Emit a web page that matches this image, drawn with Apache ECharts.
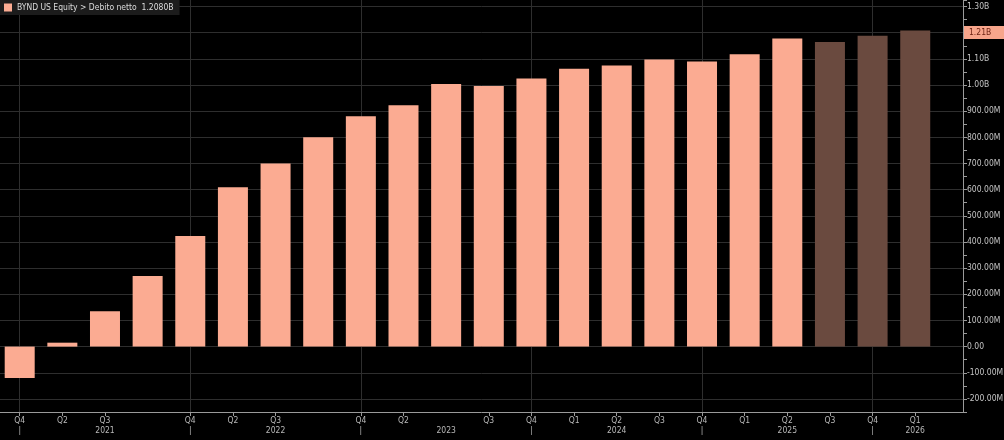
<!DOCTYPE html>
<html><head><meta charset="utf-8">
<script src="https://cdn.jsdelivr.net/npm/echarts@6/dist/echarts.min.js"></script>
<style>html,body{margin:0;padding:0;background:#000}#c{width:1004px;height:440px}</style>
</head><body><div id="c"></div>
<script>
// ---- data (values in millions USD) ----
const seriesName = 'BYND US Equity > Debito netto  1.2080B';
const quarterLabels = ['Q4','Q2','Q3','','Q4','Q2','Q3','','Q4','Q2','','Q3','Q4','Q1','Q2','Q3','Q4','Q1','Q2','Q3','Q4','Q1'];
const yearLabels    = ['','','2021','','','','2022','','','','2023','','','','2024','','','','2025','','','2026'];
const reported  = [-120,15,135,270,423,609,700,800,881,923,1004,996,1025,1062,1075,1098,1090,1118,1178,null,null,null];
const estimates = [null,null,null,null,null,null,null,null,null,null,null,null,null,null,null,null,null,null,null,1164,1188,1208];
const lastValue = 1208;
const lastValueLabel = '1.21B';
const yTickValues = [-200,-100,0,100,200,300,400,500,600,700,800,900,1000,1100,1200,1300];
const yHiddenLabels = [1200];

const FONT = "'Liberation Sans Narrow','DejaVu Sans Condensed','Liberation Sans',sans-serif";
const idx = reported.map((_, i) => i);
const labelPos = idx.filter(i => quarterLabels[i] || yearLabels[i]);
const tickPos = idx.filter(i => quarterLabels[i]);
const sepPos = idx.filter(i => quarterLabels[i] === 'Q4');

function fmtY(v) {
  if (!yTickValues.includes(v) || yHiddenLabels.includes(v)) return '';
  if (v === 0) return '0.00';
  if (Math.abs(v) >= 1000) return (v / 1000).toFixed(2) + 'B';
  return v.toFixed(2) + 'M';
}

const chart = echarts.init(document.getElementById('c'), null, {renderer: 'canvas'});
chart.setOption({
  backgroundColor: '#000',
  animation: false,
  textStyle: {fontFamily: FONT},
  legend: {
    data: [seriesName], left: 0, top: 0, padding: [3, 6, 3, 4],
    backgroundColor: '#1c1c1c', icon: 'rect', itemWidth: 8, itemHeight: 8, itemGap: 4,
    itemStyle: {borderWidth: 0},
    textStyle: {color: '#dcdcdc', fontSize: 8.5, fontFamily: FONT}
  },
  grid: {left: 0, right: 41, top: 0, bottom: 28, containLabel: false, outerBoundsMode: 'none'},
  xAxis: {
    type: 'value', min: -0.462, max: 22.12,
    axisLine: {show: true, onZero: false, lineStyle: {color: '#9a9a9a'}},
    axisTick: {show: true, length: 4, customValues: tickPos, lineStyle: {color: '#9a9a9a'}},
    splitLine: {show: false},
    axisLabel: {
      customValues: labelPos, color: '#b8b8b8', fontSize: 8.5, lineHeight: 10, margin: 4,
      fontFamily: FONT,
      formatter: v => {
        const i = Math.round(v);
        const q = quarterLabels[i] || '';
        const y = yearLabels[i] || (q === 'Q4' ? '|' : '');
        return q + '\n' + y;
      }
    }
  },
  yAxis: {
    type: 'value', position: 'right', min: -250, max: 1325, interval: 50,
    axisLine: {show: true, onZero: false, lineStyle: {color: '#9a9a9a'}},
    axisTick: {show: true, length: 4, lineStyle: {color: '#9a9a9a'}},
    splitLine: {show: false},
    axisLabel: {color: '#c4c4c4', fontSize: 8.5, margin: 4, fontFamily: FONT, formatter: fmtY}
  },
  series: [
    {
      name: 'grid', type: 'line', data: [], z: 1, silent: true,
      markLine: {
        silent: true, symbol: 'none', animation: false, z: 1,
        label: {show: false},
        lineStyle: {color: '#2e2e2e', width: 1, type: 'solid'},
        data: sepPos.map(i => ({xAxis: i})).concat(yTickValues.map(v => ({yAxis: v})))
      }
    },
    {
      name: seriesName, type: 'bar', z: 3, barWidth: 30,
      itemStyle: {color: '#fbab92'},
      data: idx.map(i => [i, reported[i]])
    },
    {
      name: 'estimate', type: 'bar', z: 3, barWidth: 30, barGap: '-100%',
      itemStyle: {color: '#6a4a3f'},
      data: idx.map(i => [i, estimates[i]]),
      markLine: {
        silent: true, symbol: 'none', animation: false, z: 6,
        lineStyle: {color: 'rgba(0,0,0,0)', width: 0},
        label: {
          show: true, position: 'end', distance: 1, formatter: lastValueLabel,
          backgroundColor: '#f7a58b', color: '#6a1f10', fontSize: 8.5, fontFamily: FONT,
          padding: [2, 14, 2, 5], offset: [0, 2]
        },
        data: [{yAxis: lastValue}]
      }
    }
  ]
});
</script>
</body></html>
